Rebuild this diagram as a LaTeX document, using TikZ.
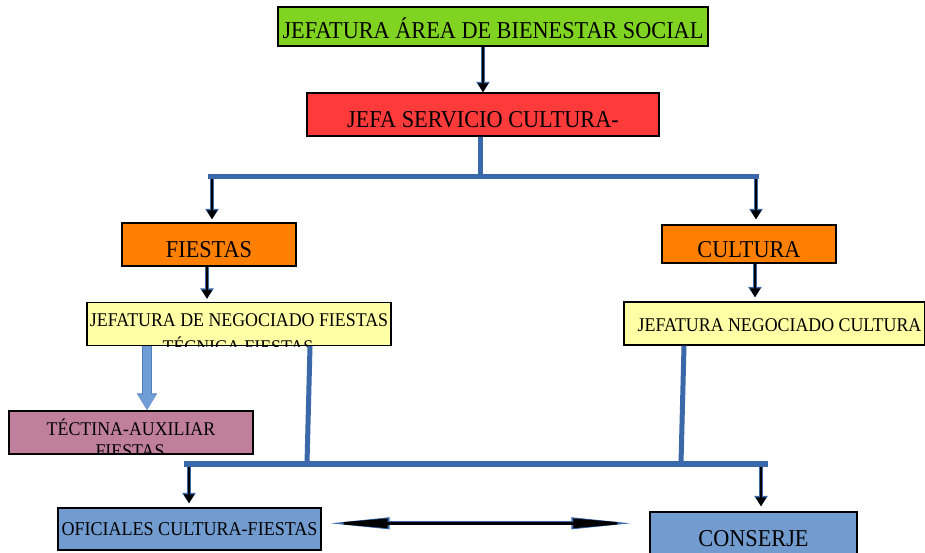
\documentclass[tikz,border=0pt]{standalone}
\usepackage{fontspec}
\setmainfont{Liberation Serif}[FakeStretch=0.92]
\usetikzlibrary{arrows.meta}
\definecolor{cgreen}{RGB}{128,211,32}
\definecolor{cred}{RGB}{255,58,58}
\definecolor{corange}{RGB}{255,128,0}
\definecolor{cyellow}{RGB}{255,255,166}
\definecolor{cmauve}{RGB}{192,128,155}
\definecolor{csteel}{RGB}{114,156,208}
\definecolor{lineblue}{RGB}{58,104,168}
\definecolor{lightfill}{RGB}{112,157,212}
\definecolor{lightedge}{RGB}{80,125,190}
\begin{document}
\begin{tikzpicture}[x=1pt,y=-1pt,
  box/.style={draw=black, line width=1.3pt, inner sep=0pt, text=black, text depth=0pt},
  big/.style={font=\fontsize{24.2}{28}\selectfont},
  small/.style={font=\fontsize{19.4}{23}\selectfont},
  conn/.style={draw=lineblue, line width=5pt},
  downarr/.style={draw=black, line width=2.6pt, -{Triangle[length=9pt,width=10pt]},
    preaction={draw=lineblue, line width=4.4pt, -{Triangle[length=10.5pt,width=13pt]}}},
  lightarr/.style={draw=lightfill, line width=8pt, -{Triangle[length=16pt,width=17pt]},
    preaction={draw=lightedge, line width=9.6pt, -{Triangle[length=17pt,width=19pt]}}},
  dblarr/.style={draw=black, line width=2.4pt,
    {Triangle[length=60pt,width=9pt]}-{Triangle[length=60pt,width=9pt]},
    preaction={draw=lineblue, line width=4pt,
    {Triangle[length=62pt,width=11pt]}-{Triangle[length=62pt,width=11pt]}}}
]
\clip (0,0) rectangle (925,552);
\fill[white] (0,0) rectangle (925,552);

% boxes
\node[box, big, fill=cgreen, minimum width=430, minimum height=39, text height=24.5pt] (jab) at (493,26.5) {JEFATURA ÁREA DE BIENESTAR SOCIAL};
\node[box, big, fill=cred, minimum width=352, minimum height=43, text height=26.5pt] (red) at (483,114.5) {JEFA SERVICIO CULTURA-};
\node[box, big, fill=corange, minimum width=174, minimum height=43, text height=25.5pt] (fiestas) at (209,244.5) {FIESTAS};
\node[box, big, fill=corange, minimum width=174, minimum height=38, text height=27.5pt] (cultura) at (749,244) {CULTURA};
\node[box, small, fill=cyellow, minimum width=304, minimum height=43, text height=5.8pt] (jnf) at (239,324) {JEFATURA DE NEGOCIADO FIESTAS};
\node[box, small, fill=cyellow, minimum width=301, minimum height=43, text height=16pt] (jnc) at (774.5,323.5) {\hspace*{10pt}JEFATURA NEGOCIADO CULTURA};
\node[box, small, fill=cmauve, minimum width=244, minimum height=43, text height=6pt] (tec) at (131,432.5) {TÉCTINA-AUXILIAR};
\node[box, small, font=\fontsize{19.6}{23}\selectfont, fill=csteel, minimum width=263, minimum height=42, text height=12.6pt] (ofi) at (189.5,529) {OFICIALES CULTURA-FIESTAS};
\node[box, big, fill=csteel, minimum width=207, minimum height=44, text height=24.5pt] (con) at (753.5,534) {CONSERJE};

% clipped second lines
\begin{scope}
  \clip (jnf.south west) rectangle (jnf.north east);
  \node[small, inner sep=0pt, text height=12.6pt, text depth=0pt] (jnf2) at (238,347.5) {TÉCNICA FIESTAS};
\end{scope}
\begin{scope}
  \clip (tec.south west) rectangle (tec.north east);
  \node[small, inner sep=0pt, text height=12.6pt, text depth=0pt] (tec2) at (130,450.8) {FIESTAS};
\end{scope}

% connectors
\coordinate (busA) at (480,176);
\coordinate (busL) at (208,176);
\coordinate (busR) at (759,176);
\coordinate (b2L) at (184,463.5);
\coordinate (b2R) at (768,463.5);

\draw[downarr] (red.north |- jab.south) -- (red.north);
\draw[downarr, shorten >=3pt] (212,178) -- (212,0 |- fiestas.north);
\draw[downarr, shorten >=5pt] (756,178) -- (756,0 |- cultura.north);
\draw[conn] (red.south -| busA) -- (busA);
\draw[conn] (busL) -- (busR);

\draw[downarr, shorten >=3pt] (207,0 |- fiestas.south) -- (207,0 |- jnf.north);
\draw[downarr, shorten >=4pt] (755,0 |- cultura.south) -- (755,0 |- jnc.north);

\draw[lightarr] (147,0 |- jnf.south) -- (147,0 |- tec.north);

\draw[downarr, shorten >=4pt] (189,466) -- (189,0 |- ofi.north);
\draw[downarr, shorten >=5pt] (761,466) -- (761,0 |- con.north);
\draw[conn] (310,0 |- jnf.south) -- (307,0 |- b2L);
\draw[conn] (684,0 |- jnc.south) -- (681,0 |- b2L);
\draw[conn, line width=6pt] (b2L) -- (b2R);

\draw[dblarr, shorten <=6pt, shorten >=16pt] (ofi.east |- 0,523.3) -- (con.west |- 0,523.3);
\end{tikzpicture}
\end{document}
